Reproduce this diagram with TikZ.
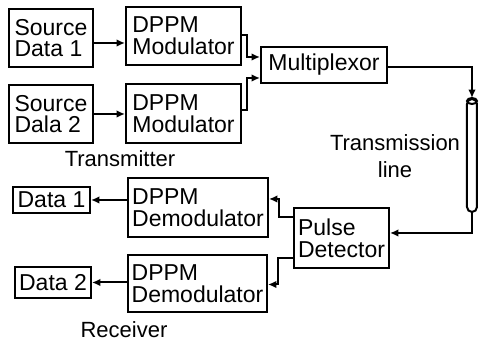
\documentclass[tikz,border=0pt]{standalone}
\usepackage{fontspec}
\setmainfont{Liberation Sans}
\usepackage{tikz}
\usetikzlibrary{arrows.meta}

\begin{document}
\begin{tikzpicture}[x=0.5pt,y=-0.5pt,
                blk/.style={draw,line width=1pt,align=left,inner sep=1pt,font=\fontsize{11.5}{10.8}\selectfont},
                wire/.style={line width=1pt},
                arr/.style={line width=1pt,-{Latex[length=4.2pt,width=3.8pt]}},
                lbl/.style={align=center,font=\fontsize{11}{13.5}\selectfont}]
                \useasboundingbox (0,0) rectangle (479,341);
                % Transmitter side
                \node[blk,minimum width=42pt,minimum height=29pt] (src1) at (51,38) {Source\\Data 1};
                \node[blk,minimum width=42pt,minimum height=29pt] (src2) at (51,114) {Source\\Dala 2};
                \node[blk,minimum width=57.5pt,minimum height=29pt] (mod1) at (183.5,36) {DPPM\\Modulator};
                \node[blk,minimum width=57.5pt,minimum height=29.5pt] (mod2) at (183.5,113.5) {DPPM\\Modulator};
                \node[blk,minimum width=63pt,minimum height=18pt] (mux) at (324,65) {Multiplexor};
                \node[lbl] (tx) at (120,159) {Transmitter};
                % Transmission line
                \node[draw,wire,rounded corners=2.5pt,minimum width=5pt,minimum height=56.5pt,inner sep=0pt] (tline) at (472,155.5) {};
                \draw[wire] ([yshift=-1.5pt]tline.north) ellipse (2.5pt and 1.5pt);
                \node[lbl] (tlbl) at (395,156) {Transmission\\line};
                % Receiver side
                \node[blk,minimum width=47.5pt,minimum height=30pt] (pd) at (341.5,238) {Pulse\\Detector};
                \node[blk,minimum width=70pt,minimum height=29.5pt] (dem1) at (198,207.5) {DPPM\\Demodulator};
                \node[blk,minimum width=69.5pt,minimum height=28.5pt] (dem2) at (197.5,283.5) {DPPM\\Demodulator};
                \node[blk,minimum width=38.5pt,minimum height=13pt] (out1) at (51.5,200) {Data 1};
                \node[blk,minimum width=38pt,minimum height=15.5pt] (out2) at (53,282.5) {Data 2};
                \node[lbl] (rx) at (124,330) {Receiver};
                % connections
                \draw[arr] ([yshift=-2.5pt]src1.east) -- ([yshift=-2.5pt]src1.east -| mod1.west);
                \draw[arr] (src2.east) -- (src2.east -| mod2.west);
                \draw[arr] ([yshift=0.5pt]mod1.east) -- ++(2.5pt,0) |- ([yshift=4pt]mux.west);
                \draw[arr] ([yshift=1.5pt]mod2.east) -- ++(2.5pt,0) |- ([yshift=-6.5pt]mux.west);
                \draw[arr] ([yshift=-1pt]mux.east) -| (tline.north);
                \draw[arr] (tline.south) |- ([yshift=2.5pt]pd.east);
                \draw[arr] ([yshift=10.5pt]pd.west) -- ++(-7pt,0) |- ([yshift=4.25pt]dem1.east);
                \draw[arr] ([yshift=-10pt]pd.west) -- ++(-7.5pt,0) |- ([yshift=-0.5pt]dem2.east);
                \draw[arr] (dem1.west |- out1.east) -- (out1.east);
                \draw[arr] (dem2.west |- out2.east) -- (out2.east);
            \end{tikzpicture}
\end{document}
